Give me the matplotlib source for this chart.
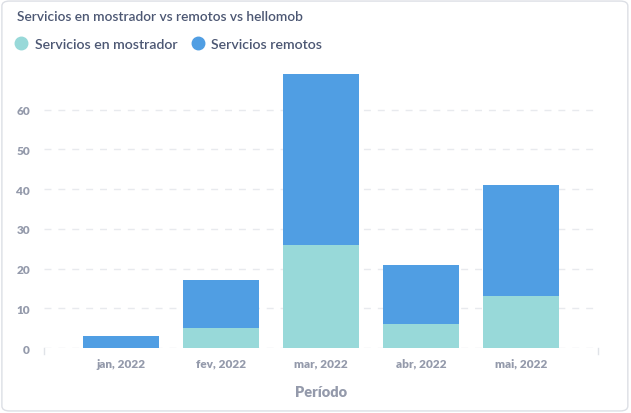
import matplotlib.pyplot as plt
from matplotlib.patches import FancyBboxPatch
from matplotlib.lines import Line2D

months = ["jan, 2022", "fev, 2022", "mar, 2022", "abr, 2022", "mai, 2022"]
mostrador = [0, 5, 26, 6, 13]
remotos = [3, 12, 43, 15, 28]

c_most = "#98D9D9"
c_rem = "#509EE3"
c_text = "#4C5773"
c_tick = "#949AAB"

plt.rcParams['font.family'] = ['Lato', 'DejaVu Sans']

fig = plt.figure(figsize=(6.31, 4.14), dpi=100)
fig.patch.set_facecolor("white")

# card border
card = FancyBboxPatch((0.003, 0.005), 0.992, 0.99, boxstyle="round,pad=0,rounding_size=0.012",
                      transform=fig.transFigure, facecolor="none", edgecolor="#DCDFE5",
                      linewidth=1.0, zorder=-1)
fig.patches.append(card)

ax = fig.add_axes([0.0697, 0.157, 0.8783, 0.6715])
ax.set_facecolor("none")

x = list(range(len(months)))
ax.bar(x, mostrador, width=0.76, color=c_most, zorder=3)
ax.bar(x, remotos, width=0.76, bottom=mostrador, color=c_rem, zorder=3)

ax.set_xlim(-0.77, 4.77)
ax.set_ylim(0, 70)
ax.set_yticks([0, 10, 20, 30, 40, 50, 60])
ax.set_xticks(x)
ax.set_xticklabels(months)

for s in ax.spines.values():
    s.set_visible(False)
ax.grid(axis="y", color="#E8EAEE", linestyle=(0, (5, 5)), linewidth=1.0, zorder=0)
ax.tick_params(axis="both", length=0, colors=c_tick, labelsize=8.5)
ax.tick_params(axis="x", pad=7)
ax.tick_params(axis="y", pad=10)
for lbl in ax.get_xticklabels() + ax.get_yticklabels():
    lbl.set_fontweight(800)

# small end ticks at the baseline
for xe in (0, 1):
    ax.plot([xe, xe], [0, -0.02], transform=ax.transAxes, color="#E0E3E8",
            linewidth=1, clip_on=False)

ax.set_xlabel("Período", color=c_tick, fontsize=10.5, fontweight=800, labelpad=12)

fig.text(0.027, 0.958, "Servicios en mostrador vs remotos vs hellomob", color=c_text,
         fontsize=9.9, fontweight=600, va="center", ha="left")

handles = [Line2D([], [], marker="o", linestyle="none", markersize=9, color=c_most),
           Line2D([], [], marker="o", linestyle="none", markersize=9, color=c_rem)]
leg = fig.legend(handles, ["Servicios en mostrador", "Servicios remotos"], loc="center left",
                 bbox_to_anchor=(0.0, 0.892), ncol=2, frameon=False,
                 prop={"size": 10.2, "weight": 600},
                 handletextpad=0.38, columnspacing=0.8, handlelength=1.2)
for t in leg.get_texts():
    t.set_color(c_text)

fig.savefig("out.png", dpi=100)
